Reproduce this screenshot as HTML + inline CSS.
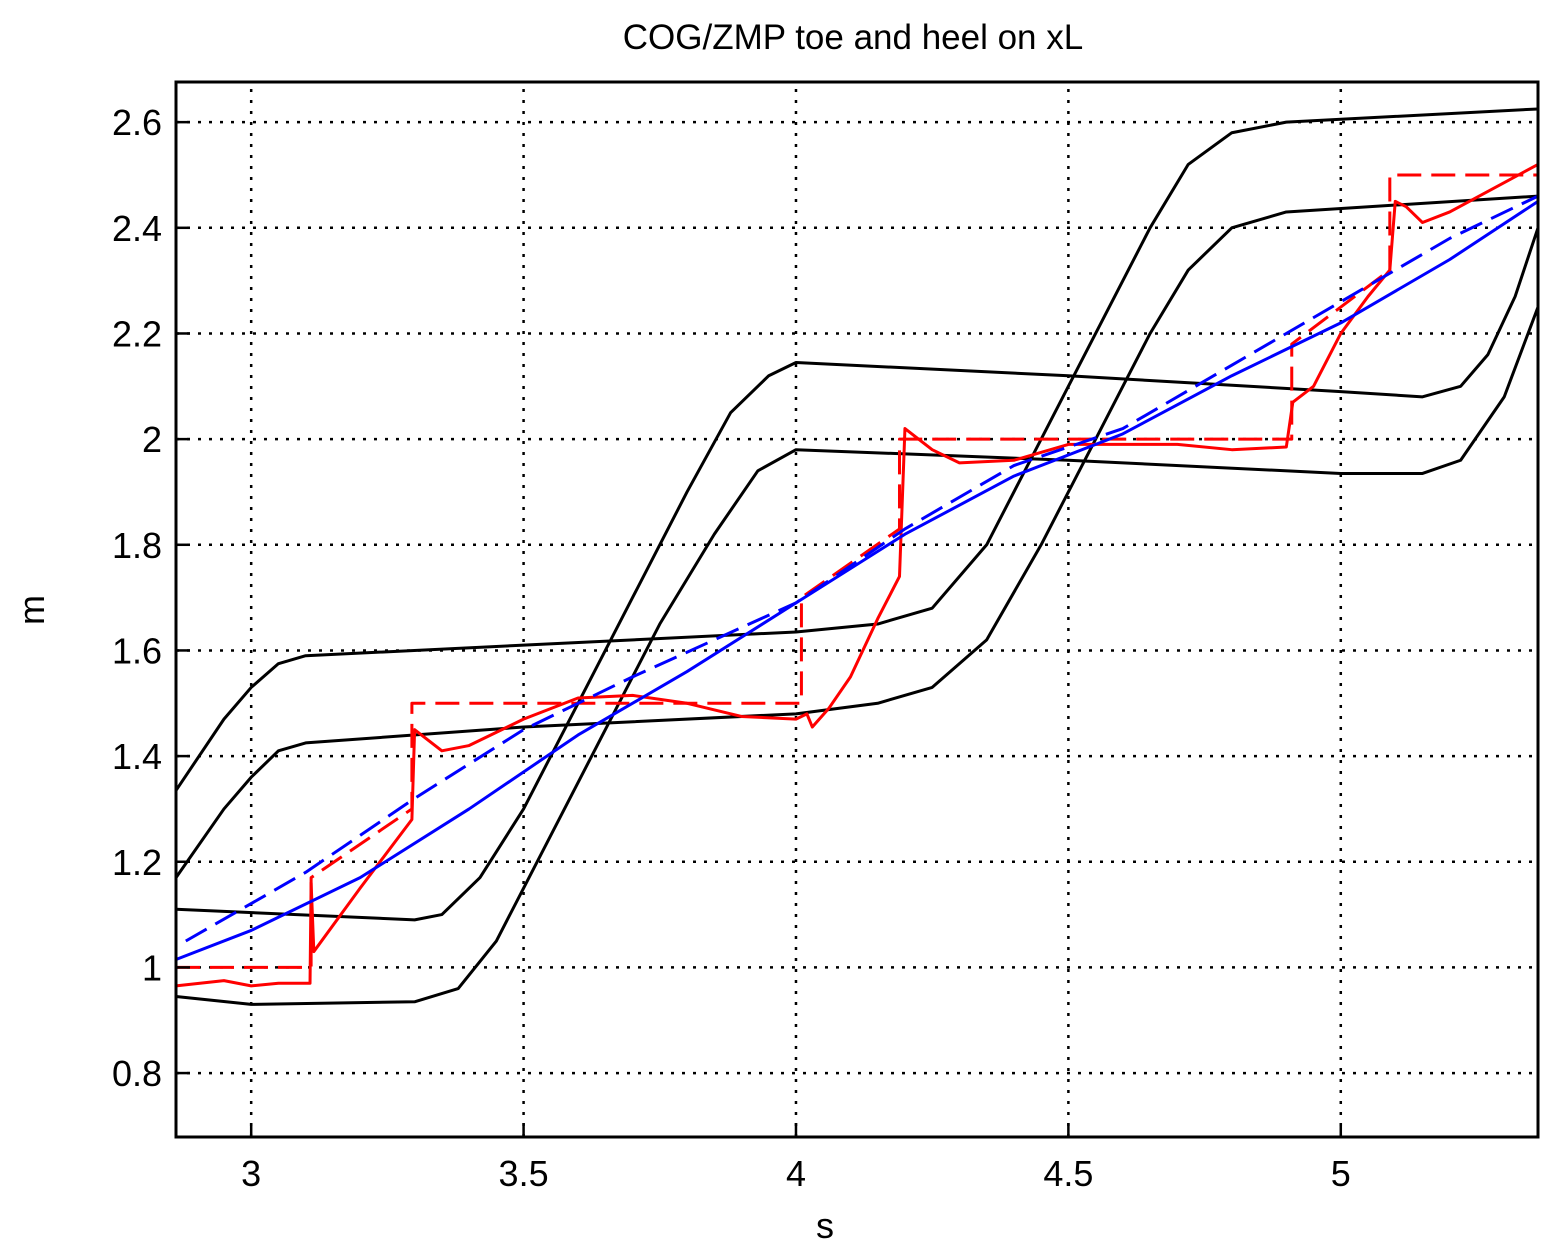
<!DOCTYPE html>
<html><head><meta charset="utf-8"><style>
html,body{margin:0;padding:0;background:#fff;}
svg{display:block;font-family:"Liberation Sans",sans-serif;}
</style></head><body>
<svg id="chart" width="1556" height="1251" viewBox="0 0 1556 1251" xmlns="http://www.w3.org/2000/svg">
<rect width="1556" height="1251" fill="#fff"/>
<text x="853" y="49" font-size="35" text-anchor="middle">COG/ZMP toe and heel on xL</text>
<text x="825" y="1238" font-size="36" text-anchor="middle">s</text>
<text x="44" y="610" font-size="36" text-anchor="middle" transform="rotate(-90 44 610)">m</text>
<g id="grid"></g>
<g id="series"></g>
<g id="ticks"></g>
<rect x="176" y="82" width="1362" height="1055" fill="none" stroke="#000" stroke-width="3"/>
</svg>
<script>
const xTicks=[3,3.5,4,4.5,5];
const xTickLabels=["3","3.5","4","4.5","5"];
const yTicks=[0.8,1,1.2,1.4,1.6,1.8,2,2.2,2.4,2.6];
const yTickLabels=["0.8","1","1.2","1.4","1.6","1.8","2","2.2","2.4","2.6"];
const cogUpper1=[[2.862,1.335],[2.95,1.47],[3.0,1.53],[3.05,1.575],[3.1,1.59],[3.5,1.61],[4.0,1.635],[4.15,1.65],[4.25,1.68],[4.35,1.8],[4.45,2.0],[4.55,2.2],[4.65,2.4],[4.72,2.52],[4.8,2.58],[4.9,2.6],[5.362,2.625]];
const cogUpper2=[[2.862,1.17],[2.95,1.3],[3.0,1.36],[3.05,1.41],[3.1,1.425],[3.5,1.455],[4.0,1.48],[4.15,1.5],[4.25,1.53],[4.35,1.62],[4.45,1.8],[4.55,2.0],[4.65,2.2],[4.72,2.32],[4.8,2.4],[4.9,2.43],[5.362,2.46]];
const cogLower1=[[2.862,1.11],[3.3,1.09],[3.35,1.1],[3.42,1.17],[3.5,1.3],[3.6,1.5],[3.7,1.7],[3.8,1.9],[3.88,2.05],[3.95,2.12],[4.0,2.145],[4.5,2.12],[5.0,2.09],[5.15,2.08],[5.22,2.1],[5.27,2.16],[5.32,2.27],[5.362,2.4]];
const cogLower2=[[2.862,0.945],[3.0,0.93],[3.3,0.935],[3.38,0.96],[3.45,1.05],[3.55,1.25],[3.65,1.45],[3.75,1.65],[3.85,1.82],[3.93,1.94],[4.0,1.98],[4.5,1.96],[5.0,1.935],[5.15,1.935],[5.22,1.96],[5.3,2.08],[5.362,2.25]];
const cogActual=[[2.862,1.015],[3.0,1.07],[3.2,1.17],[3.4,1.3],[3.6,1.44],[3.8,1.56],[4.0,1.69],[4.2,1.82],[4.4,1.93],[4.6,2.01],[4.8,2.12],[5.0,2.22],[5.2,2.34],[5.362,2.45]];
const cogRef=[[2.88,1.05],[3.1,1.18],[3.3,1.32],[3.5,1.45],[3.7,1.55],[4.0,1.69],[4.2,1.83],[4.4,1.95],[4.6,2.02],[4.8,2.14],[5.0,2.26],[5.2,2.38],[5.362,2.46]];
const zmpRef=[[2.862,1.0],[3.11,1.0],[3.11,1.17],[3.295,1.3],[3.295,1.5],[4.01,1.5],[4.01,1.7],[4.19,1.83],[4.19,2.0],[4.91,2.0],[4.91,2.18],[5.09,2.32],[5.09,2.5],[5.362,2.5]];
const zmpActual=[[2.862,0.965],[2.95,0.975],[3.0,0.965],[3.05,0.97],[3.108,0.97],[3.11,1.16],[3.115,1.03],[3.2,1.15],[3.295,1.28],[3.3,1.45],[3.35,1.41],[3.4,1.42],[3.5,1.47],[3.6,1.51],[3.7,1.515],[3.8,1.5],[3.9,1.475],[4.0,1.47],[4.02,1.48],[4.03,1.455],[4.06,1.49],[4.1,1.55],[4.15,1.66],[4.19,1.74],[4.2,2.02],[4.25,1.98],[4.3,1.955],[4.4,1.96],[4.5,1.99],[4.6,1.99],[4.7,1.99],[4.8,1.98],[4.9,1.985],[4.912,2.07],[4.95,2.1],[5.0,2.2],[5.05,2.27],[5.09,2.32],[5.1,2.45],[5.12,2.44],[5.15,2.41],[5.2,2.43],[5.362,2.52]];

const X0=176,X1=1538,Y0=1137,Y1=82,xmin=2.862,xmax=5.362,ymin=0.679,ymax=2.676;
const sx=v=>X0+(v-xmin)/(xmax-xmin)*(X1-X0);
const sy=v=>Y0-(v-ymin)/(ymax-ymin)*(Y0-Y1);
const NS="http://www.w3.org/2000/svg";
const grid=document.getElementById('grid'),ticks=document.getElementById('ticks'),series=document.getElementById('series');
function mk(tag,attrs,parent){const e=document.createElementNS(NS,tag);for(const k in attrs)e.setAttribute(k,attrs[k]);parent.appendChild(e);return e;}
xTicks.forEach((t,i)=>{
  const g=mk('line',{x1:sx(t),x2:sx(t),y1:Y0,y2:Y1,stroke:'#000','stroke-width':2.5,'stroke-dasharray':'3 8'},grid);
  
  
  const tk=mk('line',{x1:sx(t),x2:sx(t),y1:Y0,y2:Y0-14,stroke:'#000','stroke-width':2.5},ticks);
  
  
  const tx=mk('text',{x:sx(t),y:1186,'font-size':36,'text-anchor':'middle'},ticks);
  tx.textContent=xTickLabels[i];
  
  
});
yTicks.forEach((t,i)=>{
  const g=mk('line',{x1:X0,x2:X1,y1:sy(t),y2:sy(t),stroke:'#000','stroke-width':2.5,'stroke-dasharray':'3 8'},grid);
  
  
  const tk=mk('line',{x1:X0,x2:X0+14,y1:sy(t),y2:sy(t),stroke:'#000','stroke-width':2.5},ticks);
  
  
  const tx=mk('text',{x:162,y:sy(t)+13,'font-size':36,'text-anchor':'end'},ticks);
  tx.textContent=yTickLabels[i];
  
  
});
function line(data,color,dash,name){
  const p=mk('polyline',{points:data.map(d=>sx(d[0])+','+sy(d[1])).join(' '),fill:'none',stroke:color,'stroke-width':3,'stroke-linejoin':'round'},series);
  if(dash)p.setAttribute('stroke-dasharray',dash);
  
  
}
line(cogUpper1,'#000',null,'cog-bound-upper-1');
line(cogUpper2,'#000',null,'cog-bound-upper-2');
line(cogLower1,'#000',null,'cog-bound-lower-1');
line(cogLower2,'#000',null,'cog-bound-lower-2');
line(zmpRef,'#ff0000','24 10','zmp-reference-line');
line(zmpActual,'#ff0000',null,'zmp-actual-line');
line(cogRef,'#0000ff','24 10','cog-reference-line');
line(cogActual,'#0000ff',null,'cog-actual-line');
</script>
</body></html>
